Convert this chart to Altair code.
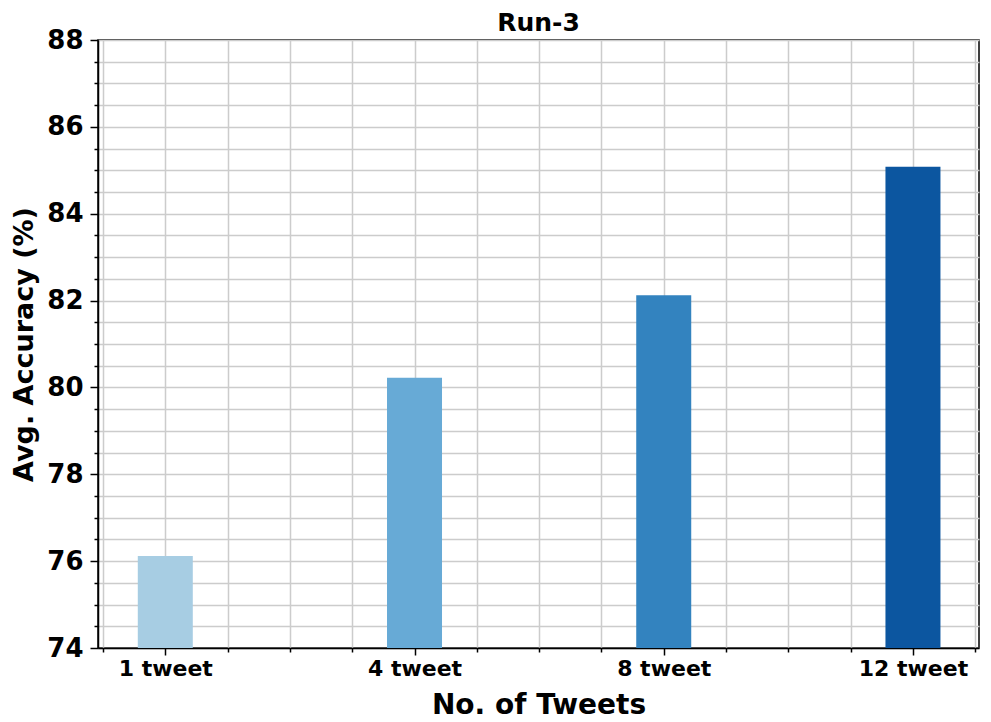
import json
import altair as alt
import pandas as pd

categories = ["1 tweet", "4 tweet", "8 tweet", "12 tweet"]
positions = [0, 1, 2, 3]
accuracy = [76.12, 80.22, 82.12, 85.08]
colors = ["#a7cde3", "#67aad6", "#3383bf", "#0c56a0"]

x_ticks = [-0.25, 0, 0.25, 0.5, 0.75, 1, 1.25, 1.5, 1.75, 2, 2.25, 2.5, 2.75, 3, 3.25]
y_ticks = [74, 74.5, 75, 75.5, 76, 76.5, 77, 77.5, 78, 78.5, 79, 79.5, 80, 80.5,
           81, 81.5, 82, 82.5, 83, 83.5, 84, 84.5, 85, 85.5, 86, 86.5, 87, 87.5, 88]

df = pd.DataFrame({"pos": positions, "cat": categories, "acc": accuracy, "color": colors})

FONT = "DejaVu Sans"
GRID = "#cccccc"

x_label_expr = "datum.value % 1 == 0 && datum.value >= 0 ? " + json.dumps(categories) + "[datum.value] : ''"
y_label_expr = "datum.value % 2 == 0 ? format(datum.value, 'd') : ''"

x_axis = alt.Axis(
    values=x_ticks,
    grid=True, gridColor=GRID, gridWidth=1.5,
    domainColor="black", domainWidth=1.5,
    tickColor="black", tickWidth=1.5,
    tickSize={"condition": {"test": "datum.value % 1 == 0", "value": 7}, "value": 4},
    labelExpr=x_label_expr, labelFont=FONT, labelFontWeight="bold", labelFontSize=22,
    labelColor="black", labelPadding=3, labelOverlap=False, labelFlush=False,
    title="No. of Tweets", titleFont=FONT, titleFontWeight="bold", titleFontSize=28,
    titleColor="black", titlePadding=12,
)

y_axis = alt.Axis(
    values=y_ticks,
    grid=True, gridColor=GRID, gridWidth=1.5,
    domainColor="black", domainWidth=1.5,
    tickColor="black", tickWidth=1.5,
    tickSize={"condition": {"test": "datum.value % 2 == 0", "value": 8}, "value": 4},
    labelExpr=y_label_expr, labelFont=FONT, labelFontWeight="bold", labelFontSize=26,
    labelColor="black", labelPadding=7, labelOverlap=False, labelFlush=False,
    title="Avg. Accuracy (%)", titleFont=FONT, titleFontWeight="bold", titleFontSize=27,
    titleColor="black", titlePadding=8,
)

chart = alt.Chart(df).mark_bar(size=55).encode(
    x=alt.X("pos:Q", scale=alt.Scale(domain=[-0.27, 3.265], nice=False, zero=False, padding=0), axis=x_axis),
    y=alt.Y("acc:Q", scale=alt.Scale(domain=[74, 88], nice=False, zero=False, padding=0), axis=y_axis),
    y2=alt.datum(74),
    color=alt.Color("color:N", scale=None, legend=None),
).properties(
    width=881,
    height=608,
    title=alt.TitleParams("Run-3", font=FONT, fontWeight="bold", fontSize=25,
                          color="black", anchor="middle", offset=-9),
    autosize=alt.AutoSizeParams(type="none"),
    padding={"left": 90, "top": 32, "right": 2, "bottom": 72},
).configure_view(
    stroke="black", strokeWidth=1.5
)

chart.save("out.html", embed_options={"renderer": "svg", "actions": False})
